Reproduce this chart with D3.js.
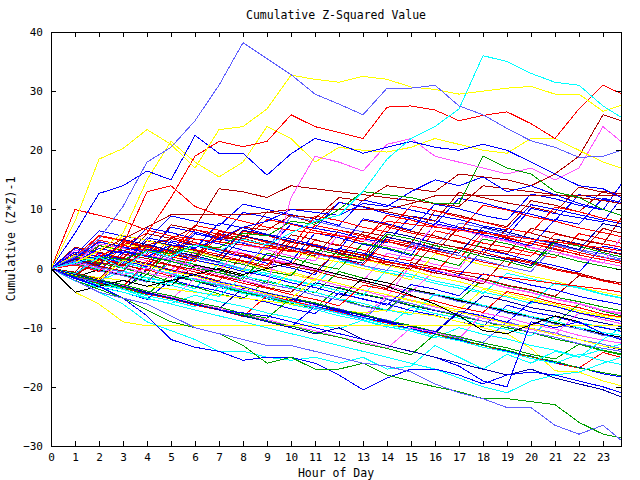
<!DOCTYPE html>
<html>
<head>
<meta charset="utf-8">
<script src="https://cdn.jsdelivr.net/npm/d3@7"></script>
<style>
  body { margin: 0; background: #fff; }
  svg { display: block; }
  text { font-family: "DejaVu Sans Mono", monospace; }
</style>
</head>
<body>
<div id="chart"></div>
<script>
// sample times (hour of day)
const hours = [0,1,2,3,4,5,6,7,8,9,10,11,12,13,14,15,16,17,18,19,20,21,22,23,23.75];
const hourTicks = [0,1,2,3,4,5,6,7,8,9,10,11,12,13,14,15,16,17,18,19,20,21,22,23];
const valueTicks = [-30,-20,-10,0,10,20,30,40];

// outlying series
const lightBlueTop = [0,2,5,10.5,18,20.5,25,31,38.2,35.5,32.8,29.5,27.8,26,30.5,30.5,31,27.5,26,23.7,21.6,20.5,18.8,19,20];
const cyanTop = [0,1,2,0,3,2,4,3,5,4,6,8,9,13,18.5,22,24,27,36,35,33,31.5,31,27.5,25.6];
const yellowTop = [0,8,18.5,20.3,23.5,21,17,23.5,24,27,32.7,32,31.5,32.5,32,30.7,30.3,29.5,30,30.5,30.8,29.5,29.5,26.6,27.6];
const redUpper = [0,1,2,4,6,12,19,21.5,20.6,21.5,26,24,23,22,27.3,27.5,26.8,25,25.9,26.5,24.5,22,27,31,29.6];
const blueUpper = [0,6,12.7,14,16.5,15,22.5,19.5,19.5,15.8,19.4,22,21,19.5,20.5,21.5,20.5,20,21,20,18,16,14,13.5,12];
const magentaJump = [0,1,0,-1,0,-1,0,-1,-2,-3,12,19,18,16.5,21,22,19,18,17,16,17,15,17,24,21.5];
const darkRedFlat = [0,1,3,5,7,9.1,9.1,9.1,9.1,9.5,10,10,10,10,10,11,12.3,12.3,12.3,12.3,12.3,12.3,12.3,12.3,12.3];
const darkRedEnd = [0,-1,1,0.5,3,2.5,5,4.5,7,6.5,9,8.5,12,11.5,14,13.5,13,16,15.5,15,14,16,19,26,25];
const greenJump = [0,1,2,1.5,3,2.5,4,3.5,6,5.5,8,7.5,10,13,12.5,12,11,11,19,17,16,13,12,10,9];
const lightBlueLow = [0,-2,-4,-5,-6,-8,-10,-11,-12,-13,-13,-14,-15,-16,-16.5,-17.5,-19.5,-21,-22,-23.5,-23.5,-26.5,-28,-26.5,-29];
const greenLow = [0,-2,-3.5,-5,-7,-9,-10,-11,-13,-16,-15,-17,-17,-16,-18,-19,-20,-20.8,-22,-22,-22.5,-23,-26,-28,-28.6];
const blueLow = [0,-1.5,-3,-5,-8,-12,-13.3,-14,-15.5,-15,-15,-16,-18,-20.5,-18.5,-17,-17,-18,-19.5,-18,-17.5,-18,-19,-20,-21];
const cyanLow = [0,-2,-4,-6,-9,-10.5,-12,-14,-14,-15,-15.5,-15,-16,-15,-17,-16.5,-13,-15,-17,-14.5,-16,-14,-15,-12,-10];
const yellowFlat = [0,-4,-6,-9,-9.7,-9.7,-9.7,-9.7,-9.7,-9.7,-9.7,-9.7,-9.7,-9.7,-9.7,-9.7,-9.7,-9.7,-9.7,-9.7,-9.7,-9.7,-9.7,-9.7,-9.7];
const blackLine = [0,-4,-3,-2,-3,-2,-1,0,-1,0,1,0,-1,-2,-3,-4.5,-6,-8,-10.5,-11,-9.5,-8,-9,-11,-12];
const yellowMid = [0,1,3,6,15,21.5,18,15.5,18,24,22,18,20.5,20,19.7,20.5,22,21,20,19.5,22,22,20,18,17];
const redSpike = [0,10,9,8,6.5,5.5,5,4.5,4,3.5,3,2.5,2,1.5,1,0.5,0,-0.5,-1,-1.5,-2,-2.5,-3,-3.5,-4];
const redArc = [0,1,2,4,13,14,10.5,9,8,7,6.5,6,5.5,5,8,7.5,7,6.5,6,5.5,5,4.5,4,3.5,3];
const darkRedHigh = [0,1,2,3,4,5,7,13.5,13,12,14,13.5,13,12.5,12,11.5,11,10.5,14,13.5,13,12.5,12,11.5,11];
const blueMid = [0,1,2,3,2,4,3.5,5,7,8,10,9.5,9,11,10.5,13,15,14,15.5,13,14,12.5,11,10,9];
const darkBlueLow = [0,-1,-2,-3,-4,-5,-6,-7,-8,-9,-10,-11,-10,-12,-13,-14,-15,-16,-17,-18,-17,-18.5,-19.5,-20.5,-21.7];
const blueJump = [0,-1,-2,-3,-4,-5,-6,-7,-7.5,-8,-9,-10,-11,-12,-13,-14,-15,-16.5,-19,-20,-9,-10,-9,-11,-12];
const cyanLow2 = [0,-1,-2,-3.5,-5,-6,-7,-8,-9,-10,-11,-12,-13,-14,-15,-16,-17,-18.5,-20,-21,-19,-18,-17.5,-16,-15];

// the dense middle band
const mid01 = [0,1.2,-0.3,2.8,2.1,1.4,5.9,5.0,4.3,3.2,7.5,6.8,6.1,5.0,4.4,8.9,8.1,7.0,6.4,5.5,10.2,9.3,8.6,7.9,11.8];
const mid02 = [0,2.5,1.6,0.9,4.7,3.8,3.1,2.0,6.3,5.6,4.4,3.9,3.0,2.2,7.1,6.0,5.2,4.6,3.5,2.9,2.1,5.8,5.0,4.2,3.6];
const mid03 = [0,-0.6,3.9,3.0,2.2,7.4,6.6,5.3,4.8,9.6,8.9,7.7,11.2,10.5,9.6,8.8,8.0,12.9,12.0,11.1,10.4,9.5,13.8,12.9,12.3];
const mid04 = [0,-1.3,-2.1,-0.4,-1.5,-2.3,-3.4,0.9,-0.2,-1.1,-2.0,-2.9,1.3,0.5,-0.7,-1.4,-2.5,-3.3,-4.2,-0.8,-1.7,-2.6,-3.3,-4.4,-5.0];
const mid05 = [0,3.1,2.4,1.2,0.5,-0.4,4.2,3.3,2.6,1.5,0.8,-0.3,-1.0,-2.1,2.6,1.8,0.7,-0.1,5.4,4.6,3.5,2.8,1.9,1.0,0.4];
const mid06 = [0,-1.4,-2.6,-3.3,-1.0,-2.2,-3.1,-4.3,-5.1,-2.0,-3.2,-4.0,-5.1,-6.3,-7.0,-3.4,-4.5,-5.3,-6.4,-7.5,-8.1,-9.3,-6.0,-7.2,-8.0];
const mid07 = [0,0.8,4.6,3.5,2.9,1.7,6.2,5.1,4.4,3.3,8.8,8.0,7.1,6.2,5.4,4.3,3.6,7.7,6.9,5.8,5.0,4.1,3.2,2.5,1.6];
const mid08 = [0,-1.2,-2.0,1.5,0.6,-0.5,-1.3,-2.4,-3.2,-4.1,-0.6,-1.7,-2.5,-3.6,-4.4,-5.3,-6.2,-7.0,-3.5,-4.6,-5.4,-6.3,-7.4,-8.1,-8.9];
const mid09 = [0,2.3,6.4,5.5,4.8,8.9,8.0,7.2,10.9,10.0,9.1,8.4,7.3,11.6,10.7,9.9,9.0,8.3,7.2,6.5,10.8,10.0,9.1,8.2,7.6];
const mid10 = [0,-1.5,-2.4,-3.5,-0.2,-1.3,-2.1,-3.2,-4.0,-5.1,-5.9,-2.4,-3.3,-4.4,-5.2,-6.3,-7.1,-8.0,-4.6,-5.5,-6.6,-7.3,-8.4,-9.2,-9.8];
const mid11 = [0,-1.1,2.7,1.8,0.9,5.3,4.4,3.2,2.5,1.4,0.6,4.8,4.0,3.1,2.0,1.3,6.4,5.5,4.3,3.6,2.7,1.8,5.9,5.0,4.3];
const mid12 = [0,0.9,-0.3,-1.1,-2.2,1.6,0.7,-0.4,-1.2,-2.3,-3.0,-4.1,-0.5,-1.6,-2.4,-3.5,-4.3,-5.4,-1.8,-2.9,-3.7,-4.8,-5.6,-6.5,-7.1];
const mid13 = [0,-1.6,-2.8,-3.5,-4.6,-5.4,-6.5,-3.1,-4.2,-5.0,-6.1,-6.9,-8.0,-8.8,-9.9,-6.5,-7.6,-8.4,-9.5,-10.3,-11.4,-8.0,-9.1,-9.9,-10.7];
const mid14 = [0,-0.8,-1.9,2.4,1.3,0.5,-0.6,-1.4,-2.5,1.7,0.9,-0.2,-1.0,-2.1,-2.9,-4.0,-0.3,-1.4,-2.2,-3.3,-4.1,-5.2,-6.0,-7.1,-7.7];
const mid15 = [0,3.6,2.8,1.7,5.9,5.1,4.0,3.2,2.1,1.3,5.7,4.9,3.8,8.2,7.4,6.3,5.5,4.4,3.6,2.5,6.8,6.0,4.9,4.1,8.5];
const mid16 = [0,-1.7,-3.1,-4.0,-5.2,-1.9,-3.0,-3.8,-4.9,-5.7,-6.8,-7.6,-4.1,-5.2,-6.0,-7.1,-7.9,-9.0,-9.8,-6.2,-7.3,-8.1,-9.2,-10.0,-10.6];
const mid17 = [0,-1.0,-2.2,-3.1,0.8,-0.3,-1.1,-2.2,-3.0,-4.1,-4.9,-6.0,-6.8,-7.9,-8.7,-9.8,-10.6,-11.7,-12.5,-9.0,-10.1,-10.9,-12.0,-12.8,-13.5];
const mid18 = [0,1.3,5.5,4.6,3.8,2.7,1.9,6.3,5.5,4.4,3.6,2.5,1.7,0.6,4.9,4.1,3.0,2.2,1.1,0.3,4.6,3.8,2.7,1.9,1.2];
const mid19 = [0,1.6,0.4,4.2,3.4,2.3,1.5,0.4,-0.4,3.8,3.0,1.9,1.1,0.0,-0.8,-1.9,2.5,1.7,0.6,-0.2,-1.3,-2.1,-3.2,-4.0,-4.6];
const mid20 = [0,-1.2,-2.5,-3.3,-4.4,-1.0,-2.1,-2.9,-4.0,-4.8,-5.9,-6.7,-3.2,-4.3,-5.1,-6.2,-7.0,-8.1,-8.9,-10.0,-10.8,-11.9,-12.7,-13.8,-14.4];
const mid21 = [0,-0.9,2.2,1.4,0.3,4.7,3.9,2.8,2.0,0.9,0.1,-1.0,3.4,2.6,1.5,0.7,-0.4,-1.2,3.2,2.4,1.3,0.5,-0.6,3.8,3.2];
const mid22 = [0,-1.3,-2.1,1.7,0.9,-0.2,-1.0,-2.1,2.3,1.5,0.4,-0.4,-1.5,-2.3,-3.4,1.0,0.2,-0.9,-1.7,-2.8,-3.6,-4.7,-1.2,-2.0,-2.7];
const mid23 = [0,1.4,0.3,-0.5,-1.6,-2.4,1.9,1.1,0.0,-0.8,-1.9,-2.7,-3.8,-4.6,-0.2,-1.0,-2.1,-2.9,-4.0,-4.8,-5.9,-2.4,-3.2,-4.3,-4.9];
const mid24 = [0,-1.4,-2.2,-3.3,-4.1,-5.2,-1.7,-2.5,-3.6,-4.4,-5.5,-6.3,-7.4,-8.2,-4.6,-5.4,-6.5,-7.3,-8.4,-9.2,-10.3,-11.1,-7.5,-8.6,-9.3];
const mid25 = [0,-1.0,1.7,0.6,-0.2,-1.3,3.2,2.4,1.3,0.5,4.9,4.1,3.0,2.2,1.1,0.3,-0.8,3.6,2.8,1.7,0.9,-0.2,-1.0,-2.1,-2.7];
const mid26 = [0,0.7,-0.4,-1.2,-2.3,1.2,0.4,-0.7,-1.5,-2.6,-3.4,-4.5,-5.3,-6.4,-7.2,-3.7,-4.5,-5.6,-6.4,-7.5,-8.3,-9.4,-10.2,-11.3,-11.8];
const mid27 = [0,2.4,1.6,0.5,4.8,4.0,2.9,2.1,6.5,5.7,4.6,3.8,2.7,1.9,6.2,5.4,4.3,3.5,2.4,1.6,0.5,5.0,4.2,3.1,2.5];
const mid28 = [0,-1.4,-0.2,-1.0,-2.1,-2.9,0.6,-0.2,-1.3,-2.1,-3.2,-4.0,-5.1,-1.6,-2.4,-3.5,-4.3,-5.4,-6.2,-7.3,-8.1,-9.2,-10.0,-11.1,-11.6];
const mid29 = [0,1.1,3.9,3.1,2.0,1.2,0.1,-0.7,-1.8,2.6,1.8,0.7,-0.1,4.3,3.5,2.4,1.6,0.5,5.0,4.2,3.1,2.3,1.2,0.4,-0.2];
const mid30 = [0,1.5,0.4,-0.4,3.3,2.5,1.4,0.6,-0.5,-1.3,-2.4,-3.2,-4.3,-5.1,-6.2,-2.7,-3.5,-4.6,-0.9,-1.7,-2.8,-3.6,-4.7,-5.5,-6.1];
const mid31 = [0,-1.3,-2.4,-3.2,-4.3,-5.1,-6.2,-7.0,-8.1,-4.6,-5.4,-6.5,-7.3,-8.4,-9.2,-10.3,-11.1,-12.2,-13.0,-14.1,-14.9,-16.0,-16.8,-14.2,-15.0];
const mid32 = [0,1.8,0.7,4.4,3.6,2.5,1.7,5.9,5.1,4.0,3.2,2.1,6.5,5.7,4.6,3.8,2.7,7.0,6.2,5.1,4.3,3.2,2.4,6.8,6.0];
const mid33 = [0,-1.0,-1.5,-2.0,-3.0,-3.5,-4.0,-4.5,-5.0,-5.5,-6.0,-6.5,-7.0,-7.5,-7.0,-7.5,-8.0,-9.0,-10.0,-11.0,-13.5,-17.3,-17.5,-19.0,-19.8];
const mid34 = [0,-2.1,-3.2,-4.0,-5.1,-5.9,-4.5,-5.6,-6.4,-7.5,-8.3,-9.4,-10.2,-8.7,-9.8,-10.6,-11.7,-10.0,-11.1,-11.9,-13.0,-13.8,-14.9,-13.6,-12.8];
const mid35 = [0,2.2,1.1,0.3,-0.8,-1.6,2.8,2.0,0.9,0.1,-1.0,-1.8,-2.9,-3.7,-4.8,0.6,-0.2,-1.3,-2.1,-3.2,-4.0,-5.1,-5.9,-7.0,-7.5];
const mid36 = [0,-1.2,-2.3,-3.1,-4.2,-5.0,-6.1,-6.9,-8.0,-8.8,-9.9,-6.4,-7.2,-8.3,-9.1,-10.2,-11.0,-12.1,-12.9,-14.0,-14.8,-15.9,-16.7,-17.8,-18.3];
const mid37 = [0,-0.7,-1.8,2.5,1.7,0.6,-0.2,-1.3,-2.1,-3.2,-4.0,-0.5,3.1,2.3,1.2,0.4,-0.7,-1.5,-2.6,1.9,1.1,0.0,-0.8,-1.9,-2.4];
const mid38 = [0,-1.5,-2.3,0.9,0.1,-1.0,-1.8,-2.9,-3.7,-4.8,-5.6,-6.7,-7.5,-8.6,-5.1,-5.9,-7.0,-7.8,-8.9,-9.7,-10.8,-11.6,-12.7,-13.5,-14.0];
const mid39 = [0,-0.8,-1.9,-2.7,-3.8,-4.6,-5.7,-6.5,-7.6,-8.4,-5.0,-5.8,-6.9,-7.7,-8.8,-9.6,-10.7,-11.5,-12.6,-13.4,-14.5,-15.3,-12.8,-13.9,-14.6];
const mid40 = [0,1.2,4.8,4.0,2.9,2.1,6.6,5.8,4.7,3.9,2.8,7.3,6.5,5.4,4.6,3.5,2.7,1.6,6.1,5.3,4.2,3.4,2.3,1.5,0.9];
const mid41 = [0,3.4,2.6,1.5,0.7,-0.4,-1.2,-2.3,-3.1,-4.2,-5.0,-6.1,-6.9,-8.0,-8.8,-9.9,-10.7,-7.2,-8.0,-9.1,-5.6,-6.4,-7.5,-8.3,-8.9];
const mid42 = [0,-1.1,-2.2,-3.0,-4.1,-4.9,-6.0,-6.8,-3.3,-4.1,-5.2,-6.0,-7.1,-7.9,-9.0,-9.8,-10.9,-7.4,-8.2,-9.3,-10.1,-11.2,-12.0,-13.1,-13.7];
const mid43 = [0,2.3,1.2,5.6,4.8,3.7,2.9,1.8,1.0,-0.1,-0.9,-2.0,2.4,1.6,0.5,-0.3,-1.4,-2.2,-3.3,-4.1,-5.2,-6.0,-7.1,-7.9,-8.3];
const mid44 = [0,1.0,-0.1,-0.9,-2.0,-2.8,-3.9,-4.7,-1.3,-2.1,-3.2,-4.0,-5.1,-5.9,-7.0,-7.8,-4.3,-5.1,-6.2,-7.0,-8.1,-8.9,-10.0,-10.8,-11.3];
const mid45 = [0,-1.2,-2.0,-3.1,1.3,0.5,-0.6,-1.4,-2.5,-3.3,-4.4,-5.2,-6.3,-2.8,-3.6,-4.7,-5.5,-6.6,-7.4,-3.9,-4.7,-5.8,-6.6,-7.7,-8.2];
const mid46 = [0,1.1,3.4,2.6,6.9,6.1,5.0,4.2,3.1,2.3,1.2,6.0,5.2,4.1,3.3,2.2,7.6,6.8,5.7,4.9,3.8,8.3,7.5,11.9,11.2];
const mid47 = [0,1.5,0.4,-0.4,3.9,3.1,2.0,6.4,5.6,4.5,3.7,2.6,1.8,6.2,5.4,4.3,9.8,9.0,7.9,7.1,11.5,10.7,9.6,13.1,12.6];
const mid48 = [0,2.0,0.9,0.1,-1.0,3.4,2.6,1.5,0.7,-0.4,-1.2,3.2,2.4,1.3,5.8,5.0,3.9,3.1,2.0,1.2,0.1,4.6,3.8,2.7,2.0];
const mid49 = [0,1.8,4.5,3.7,2.6,7.0,6.2,5.1,9.5,8.7,7.6,6.8,11.2,10.4,9.3,8.5,7.4,11.9,11.1,10.0,9.2,8.1,12.5,11.7,11.0];
const mid50 = [0,0.6,-0.5,3.9,3.1,2.0,1.2,5.6,4.8,8.3,7.5,6.4,5.6,4.5,9.0,8.2,7.1,6.3,10.7,9.9,8.8,8.0,6.9,6.1,5.4];
const mid51 = [0,-1.0,-2.1,-2.9,-4.0,-4.8,-5.9,-6.7,-7.8,-8.6,-9.7,-10.5,-11.6,-12.4,-13.5,-10.0,-10.8,-11.9,-7.5,-8.3,-9.4,-10.2,-11.3,-12.1,-12.6];
const mid52 = [0,-0.9,1.9,1.1,0.0,-0.8,-1.9,-2.7,-3.8,-4.6,-5.7,-6.5,-7.6,-8.4,-9.5,-10.3,-11.4,-12.2,-13.3,-14.1,-15.2,-16.0,-14.5,-15.6,-16.2];
const mid53 = [0,2.8,2.0,0.9,5.2,4.4,3.3,7.7,6.9,5.8,5.0,3.9,3.1,8.4,7.6,6.5,10.9,10.1,9.0,8.2,12.6,11.8,10.7,9.9,14.2];
const mid54 = [0,-1.2,1.5,0.7,-0.4,3.9,3.1,2.0,1.2,0.1,4.5,3.7,2.6,1.8,0.7,-0.1,4.3,3.5,2.4,6.8,6.0,4.9,4.1,3.0,2.4];
const mid55 = [0,-1.3,-2.1,-3.2,-4.0,-5.1,-5.9,-7.0,-7.8,-8.9,-9.7,-10.8,-11.6,-12.7,-13.5,-14.6,-11.1,-11.9,-13.0,-13.8,-14.9,-15.7,-16.8,-17.6,-18.1];
const mid56 = [0,1.3,0.2,-0.6,3.7,2.9,1.8,1.0,-0.1,4.3,3.5,2.4,1.6,0.5,-0.3,4.1,3.3,2.2,1.4,0.3,-0.5,3.9,3.1,2.0,1.4];
const mid57 = [0,2.0,5.6,4.8,3.7,2.9,7.3,6.5,5.4,4.6,3.5,8.9,8.1,7.0,6.2,10.6,9.8,8.7,7.9,6.8,6.0,10.4,9.6,8.5,7.9];
const mid58 = [0,0.9,4.2,3.4,2.3,1.5,0.4,-0.4,4.0,3.2,2.1,1.3,5.7,4.9,3.8,3.0,7.4,6.6,5.5,4.7,3.6,2.8,1.7,0.9,5.2];
const mid59 = [0,1.6,0.5,4.9,4.1,3.0,2.2,1.1,5.5,4.7,3.6,2.8,1.7,0.9,5.3,4.5,3.4,2.6,7.0,6.2,5.1,4.3,3.2,7.6,7.0];
const mid60 = [0,-1.1,-1.9,1.4,0.6,-0.5,-1.3,-2.4,-3.2,-4.3,-5.1,-1.7,-2.5,-3.6,-4.4,-5.5,-6.3,-7.4,-8.2,-9.3,-10.1,-11.2,-12.0,-13.1,-13.6];

const palette = {
  blue: "#0000ff", red: "#ff0000", darkred: "#b00000", yellow: "#ffff00",
  cyan: "#00ffff", magenta: "#ff55ff", green: "#00a000", lightblue: "#5f5fff",
  darkblue: "#0000a8", black: "#000000"
};

const midLines = [mid01,mid02,mid03,mid04,mid05,mid06,mid07,mid08,mid09,mid10,mid11,mid12,
  mid13,mid14,mid15,mid16,mid17,mid18,mid19,mid20,mid21,mid22,mid23,mid24,mid25,mid26,mid27,
  mid28,mid29,mid30,mid31,mid32,mid33,mid34,mid35,mid36,mid37,mid38,mid39,mid40,mid41,mid42,
  mid43,mid44,mid45,mid46,mid47,mid48,mid49,mid50,mid51,mid52,mid53,mid54,mid55,mid56,mid57,
  mid58,mid59,mid60];
const midColors = ["blue","red","darkred","cyan","magenta","green","lightblue","yellow","blue","darkblue",
  "red","green","cyan","magenta","darkred","blue","lightblue","red","yellow","green","blue","darkred",
  "cyan","magenta","red","lightblue","darkblue","black","green","blue","red","darkred","yellow","cyan",
  "magenta","blue","darkred","lightblue","green","red","blue","darkblue","yellow","cyan","red","blue",
  "darkred","green","blue","red","magenta","cyan","blue","darkred","green","lightblue","red","magenta",
  "darkblue","yellow"];

const series = midLines.map((v, i) => ({values: v, color: palette[midColors[i]]})).concat([
  {values: darkRedFlat, color: palette.darkred},
  {values: darkRedHigh, color: palette.darkred},
  {values: darkRedEnd, color: palette.darkred},
  {values: redArc, color: palette.red},
  {values: redSpike, color: palette.red},
  {values: blueMid, color: palette.blue},
  {values: greenJump, color: palette.green},
  {values: magentaJump, color: palette.magenta},
  {values: yellowFlat, color: palette.yellow},
  {values: blackLine, color: palette.black},
  {values: cyanLow, color: palette.cyan},
  {values: cyanLow2, color: palette.cyan},
  {values: blueJump, color: palette.blue},
  {values: darkBlueLow, color: palette.darkblue},
  {values: blueLow, color: palette.blue},
  {values: greenLow, color: palette.green},
  {values: lightBlueLow, color: palette.lightblue},
  {values: yellowMid, color: palette.yellow},
  {values: blueUpper, color: palette.blue},
  {values: redUpper, color: palette.red},
  {values: yellowTop, color: palette.yellow},
  {values: cyanTop, color: palette.cyan},
  {values: lightBlueTop, color: palette.lightblue}
]);

const width = 640, height = 480;
const plotLeft = 51, plotRight = 621, plotTop = 32, plotBottom = 446;

const x = d3.scaleLinear().domain([0, 23.75]).range([plotLeft, plotRight]);
const y = d3.scaleLinear().domain([-30, 40]).range([plotBottom, plotTop]);

const svg = d3.select("#chart").append("svg")
  .attr("width", width)
  .attr("height", height);

svg.append("defs").append("clipPath").attr("id", "plot")
  .append("rect")
  .attr("x", plotLeft).attr("y", plotTop)
  .attr("width", plotRight - plotLeft).attr("height", plotBottom - plotTop);

const line = d3.line()
  .x((d, i) => x(hours[i]))
  .y(d => y(d));

svg.append("g")
  .attr("clip-path", "url(#plot)")
  .selectAll("path")
  .data(series)
  .join("path")
  .attr("d", d => line(d.values))
  .attr("fill", "none")
  .attr("stroke", d => d.color)
  .attr("stroke-width", 1)
  .attr("shape-rendering", "crispEdges");

// frame with inward ticks on all four sides
const styleAxis = g => {
  g.selectAll("path, line").attr("stroke", "#000").attr("shape-rendering", "crispEdges");
  g.selectAll("text").style("font-family", "'DejaVu Sans Mono', monospace").style("font-size", "11px").attr("fill", "#000");
};

svg.append("g")
  .attr("transform", `translate(0,${plotBottom})`)
  .call(d3.axisBottom(x).tickValues(hourTicks).tickFormat(d3.format("d")).tickSizeInner(-5).tickSizeOuter(0).tickPadding(7))
  .call(styleAxis);

svg.append("g")
  .attr("transform", `translate(0,${plotTop})`)
  .call(d3.axisTop(x).tickValues(hourTicks).tickFormat("").tickSizeInner(-5).tickSizeOuter(0))
  .call(styleAxis);

svg.append("g")
  .attr("transform", `translate(${plotLeft},0)`)
  .call(d3.axisLeft(y).tickValues(valueTicks).tickFormat(d3.format("d")).tickSizeInner(-5).tickSizeOuter(0).tickPadding(8))
  .call(styleAxis);

svg.append("g")
  .attr("transform", `translate(${plotRight},0)`)
  .call(d3.axisRight(y).tickValues(valueTicks).tickFormat("").tickSizeInner(-5).tickSizeOuter(0))
  .call(styleAxis);

svg.append("text")
  .attr("x", (plotLeft + plotRight) / 2)
  .attr("y", 19)
  .attr("text-anchor", "middle")
  .style("font-size", "11.5px")
  .text("Cumulative Z-Squared Value");

svg.append("text")
  .attr("x", (plotLeft + plotRight) / 2)
  .attr("y", 477)
  .attr("text-anchor", "middle")
  .style("font-size", "11.5px")
  .text("Hour of Day");

svg.append("text")
  .attr("transform", `translate(15,${(plotTop + plotBottom) / 2}) rotate(-90)`)
  .attr("text-anchor", "middle")
  .style("font-size", "11.5px")
  .text("Cumulative (Z*Z)-1");
</script>
</body>
</html>
